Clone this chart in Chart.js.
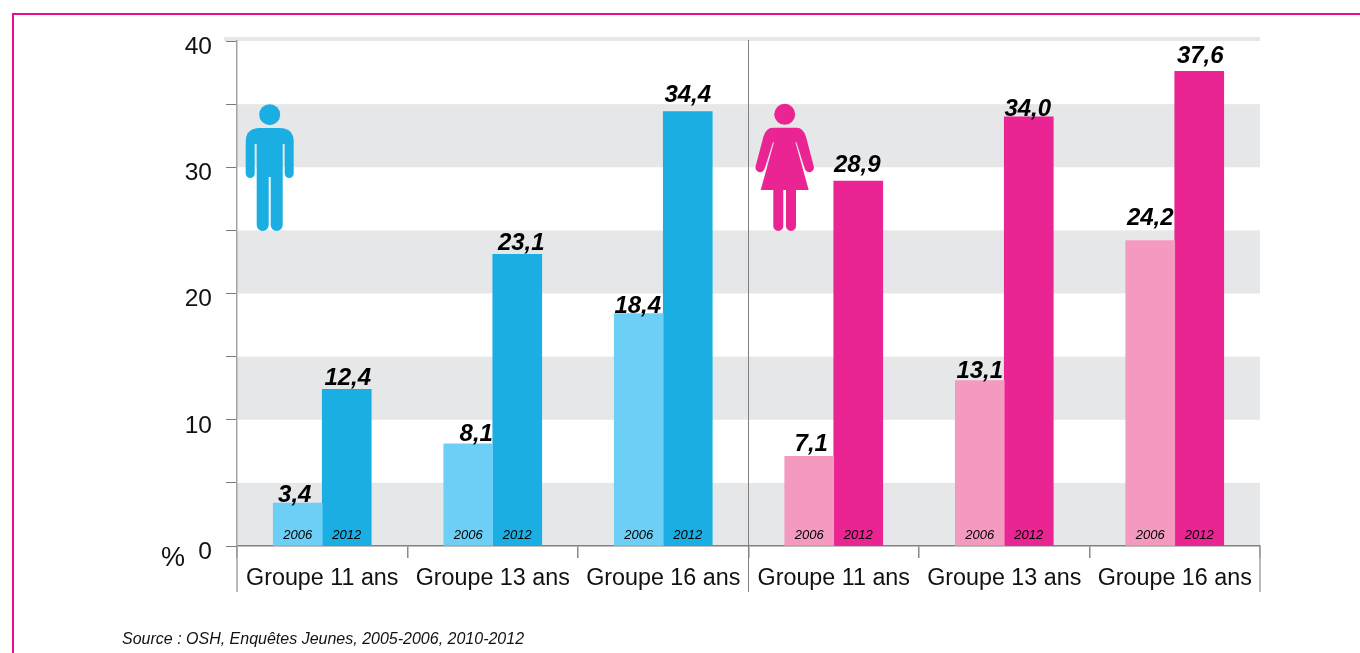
<!DOCTYPE html>
<html lang="fr">
<head>
<meta charset="utf-8">
<title>Source : OSH, Enquêtes Jeunes</title>
<script src="https://cdn.jsdelivr.net/npm/chart.js@4"></script>
<style>
html,body{margin:0;padding:0;background:#fff;width:1360px;height:653px;overflow:hidden}
#wrap{position:relative;width:1360px;height:653px}
canvas{position:absolute;left:0;top:0}
#frame{position:absolute;left:12px;top:13px;width:1360px;height:700px;border:2.5px solid #ec0e8c;box-sizing:border-box}
#icons{position:absolute;left:0;top:0}
#source{position:absolute;left:122px;top:630px;font:italic 16px "Liberation Sans",Arial,sans-serif;color:#111;white-space:nowrap}
</style>
</head>
<body>
<div id="wrap">
<div id="frame"></div>
<canvas id="c" width="1360" height="653"></canvas>
<svg id="icons" width="1360" height="653" aria-hidden="true">
  <g fill="#1aaee3">
    <circle cx="269.7" cy="114.7" r="10.5"/>
    <path d="M254.7 144V173.5a4.5 4.5 0 0 1-9 0V142Q245.7 128 259.7 128H279.7Q293.7 128 293.7 142V173.5a4.5 4.5 0 0 1-9 0V144H282.7V225a6 6 0 0 1-12 0V177H268.7V225a6 6 0 0 1-12 0V144Z"/>
  </g>
  <g fill="#ea2493">
    <circle cx="784.7" cy="114.3" r="10.5"/>
    <path d="M772.5 127.7H796.9Q803 127.7 806 136.7L813.7 166a4.6 4.6 0 0 1-8.8 3L796.4 142.3H795.4L808.7 190H796V226a5 5 0 0 1-10 0V190H783.3V226a5 5 0 0 1-10 0V190H760.7L774 142.3H773L764.5 169a4.6 4.6 0 0 1-8.8-3L763.4 136.7Q766.4 127.7 772.5 127.7Z"/>
  </g>
</svg>
<div id="source">Source : OSH, Enquêtes Jeunes, 2005-2006, 2010-2012</div>
</div>
<script>
const categories = ['Groupe 11 ans','Groupe 13 ans','Groupe 16 ans','Groupe 11 ans','Groupe 13 ans','Groupe 16 ans'];
const values2006 = [3.4, 8.1, 18.4, 7.1, 13.1, 24.2];
const values2012 = [12.4, 23.1, 34.4, 28.9, 34.0, 37.6];
const yearLabels = ['2006', '2012'];
const yTickLabels = [0, 10, 20, 30, 40];
const bandRanges = [[0,5],[10,15],[20,25],[30,35]];

const FONT = '"Liberation Sans", Arial, sans-serif';
const colors2006 = ['#6dcff6','#6dcff6','#6dcff6','#f49ac1','#f49ac1','#f49ac1'];
const colors2012 = ['#1aaee3','#1aaee3','#1aaee3','#ea2493','#ea2493','#ea2493'];
const labelNudge2006 = [[-3,-1],[8,-3],[-1,-1],[2,-5],[0,-3],[0,-15]];
const labelNudge2012 = [[1,-4],[4,-4],[0,-10],[-1,-9],[-1,-1],[1,-8]];

const decor = {
  id: 'decor',
  beforeDraw(chart) {
    const {ctx, chartArea: a, scales: {y}} = chart;
    ctx.save();
    ctx.fillStyle = '#e6e7e8';
    bandRanges.forEach(([lo, hi]) => {
      const top = y.getPixelForValue(hi), bot = y.getPixelForValue(lo);
      ctx.fillRect(a.left, top, a.right - a.left, bot - top);
    });
    const t = y.getPixelForValue(40);
    ctx.fillRect(224, t - 4, a.right - 224, 4);
    ctx.restore();
  },
  afterDraw(chart) {
    const {ctx, chartArea: a, scales: {x}} = chart;
    ctx.save();
    ctx.lineWidth = 1.5;
    ctx.strokeStyle = '#a3a3a3';
    ctx.beginPath();
    ctx.moveTo(a.left, a.bottom); ctx.lineTo(a.left, 592);
    ctx.moveTo(a.right, a.bottom); ctx.lineTo(a.right, 592);
    ctx.stroke();
    const mid = (x.getPixelForValue(2) + x.getPixelForValue(3)) / 2;
    ctx.lineWidth = 1;
    ctx.strokeStyle = '#808080';
    ctx.beginPath();
    ctx.moveTo(mid, 40); ctx.lineTo(mid, 592);
    ctx.stroke();
    ctx.fillStyle = '#111';
    ctx.font = '27px ' + FONT;
    ctx.textAlign = 'left';
    ctx.textBaseline = 'alphabetic';
    ctx.fillText('%', 161, 566);
    ctx.restore();
  }
};

const barLabels = {
  id: 'barLabels',
  afterDatasetsDraw(chart) {
    const {ctx} = chart;
    ctx.save();
    ctx.textAlign = 'center';
    ctx.fillStyle = '#000';
    chart.data.datasets.forEach((ds, di) => {
      const nudge = di === 0 ? labelNudge2006 : labelNudge2012;
      chart.getDatasetMeta(di).data.forEach((bar, i) => {
        ctx.font = 'italic bold 24px ' + FONT;
        ctx.textBaseline = 'alphabetic';
        const txt = ds.data[i].toFixed(1).replace('.', ',');
        ctx.fillText(txt, bar.x + nudge[i][0], bar.y + nudge[i][1]);
        ctx.font = 'italic 13px ' + FONT;
        ctx.textBaseline = 'middle';
        ctx.fillText(yearLabels[di], bar.x, bar.base - 10);
      });
    });
    ctx.restore();
  }
};

new Chart(document.getElementById('c'), {
  type: 'bar',
  data: {
    labels: categories,
    datasets: [
      {label: yearLabels[0], data: values2006, backgroundColor: colors2006, barThickness: 49, borderWidth: 0},
      {label: yearLabels[1], data: values2012, backgroundColor: colors2012, barThickness: 49, borderWidth: 0}
    ]
  },
  options: {
    responsive: false,
    animation: false,
    layout: {padding: {top: 41, right: 100, left: 0, bottom: 0}},
    plugins: {legend: {display: false}, tooltip: {enabled: false}, title: {display: false}},
    scales: {
      x: {
        afterFit: s => { s.height = 107; },
        border: {color: '#808080', width: 1.5},
        grid: {drawOnChartArea: false, color: '#8a8a8a', lineWidth: 1.5, tickLength: 12, offset: true},
        ticks: {color: '#111', font: {family: FONT, size: 23.3}, padding: 7, maxRotation: 0, autoSkip: false}
      },
      y: {
        min: 0, max: 40,
        afterFit: s => { s.width = 237; },
        border: {color: '#a3a3a3', width: 1.5},
        grid: {drawOnChartArea: false, tickLength: 11, lineWidth: 1, color: '#7a7a7a'},
        ticks: {
          stepSize: 5,
          color: '#111',
          padding: 14,
          labelOffset: 6,
          font: {family: FONT, size: 24.5},
          callback: v => yTickLabels.includes(v) ? String(v) : ''
        }
      }
    }
  },
  plugins: [decor, barLabels]
});
</script>
</body>
</html>
